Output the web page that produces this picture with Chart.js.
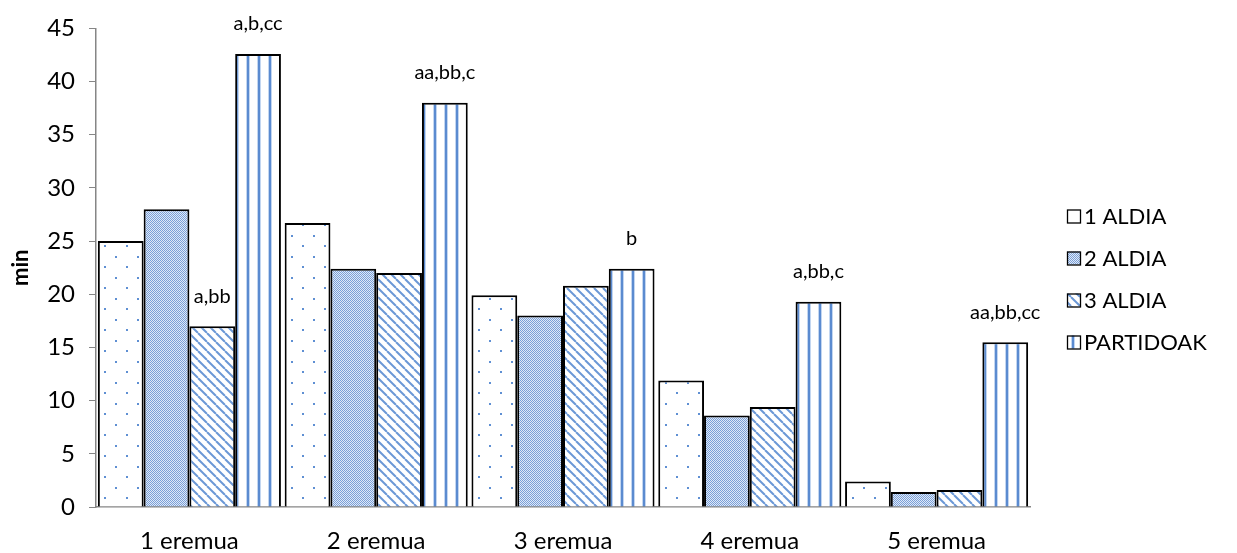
<!DOCTYPE html>
<html>
<head>
<meta charset="utf-8">
<script src="https://cdn.jsdelivr.net/npm/chart.js@4/dist/chart.umd.min.js"></script>
<style>
  html, body { margin: 0; padding: 0; background: #ffffff; }
  #wrap { width: 1237px; height: 553px; position: relative; }
</style>
</head>
<body>
<div id="wrap"><canvas id="c" width="1237" height="553"></canvas></div>
<script>
// Categories (zones) and series values in minutes
const categories = ['1 eremua', '2 eremua', '3 eremua', '4 eremua', '5 eremua'];
const seriesNames = ['1 ALDIA', '2 ALDIA', '3 ALDIA', 'PARTIDOAK'];
const aldia1 = [25.0, 26.7, 19.9, 11.9, 2.4];
const aldia2 = [28.0, 22.4, 18.0, 8.6, 1.4];
const aldia3 = [17.0, 22.0, 20.8, 9.4, 1.6];
const partidoak = [42.6, 38.0, 22.4, 19.3, 15.5];
const yTicks = [0, 5, 10, 15, 20, 25, 30, 35, 40, 45];

// Significance letters: [category index, series index, text]
const sigLabels = [
  [0, 2, 'a,bb'],
  [0, 3, 'a,b,cc'],
  [1, 3, 'aa,bb,c'],
  [2, 3, 'b'],
  [3, 3, 'a,bb,c'],
  [4, 3, 'aa,bb,cc']
];

const FONT = 'Lato, "Open Sans", sans-serif';
const BLUE = '#5b8bd0';

// ---- fill patterns ----
function tile(w, h, draw) {
  const cv = document.createElement('canvas');
  cv.width = w; cv.height = h;
  const g = cv.getContext('2d');
  g.fillStyle = '#ffffff';
  g.fillRect(0, 0, w, h);
  draw(g);
  return document.getElementById('c').getContext('2d').createPattern(cv, 'repeat');
}
// sparse staggered dots
const patDots = tile(22, 21, g => {
  g.fillStyle = '#5f8fd3';
  g.fillRect(5, 4, 2, 2);
  g.fillRect(16, 14, 2, 2);
});
// dense small checker
const patGrid = tile(2, 2, g => {
  g.fillStyle = '#7aa0d8';
  g.fillRect(0, 0, 1, 1);
  g.fillRect(1, 1, 1, 1);
  g.fillStyle = '#e0e9f7';
  g.fillRect(1, 0, 1, 1);
  g.fillRect(0, 1, 1, 1);
});
// downward diagonal stripes
const patDiag = tile(9, 9, g => {
  g.strokeStyle = '#6b98d6';
  g.lineWidth = 2;
  for (let k = -9; k <= 9; k += 9) {
    g.beginPath();
    g.moveTo(k, 0);
    g.lineTo(k + 9, 9);
    g.stroke();
  }
});
// vertical stripes
const patVert = tile(11, 4, g => {
  g.fillStyle = '#c3d6f0';
  g.fillRect(4, 0, 4, 4);
  g.fillStyle = BLUE;
  g.fillRect(5, 0, 2, 4);
});
const patterns = [patDots, patGrid, patDiag, patVert];
const seriesData = [aldia1, aldia2, aldia3, partidoak];

const datasets = seriesNames.map((name, i) => ({
  label: name,
  data: seriesData[i],
  backgroundColor: patterns[i],
  borderColor: '#000000',
  borderWidth: 2,
  borderSkipped: 'bottom',
  categoryPercentage: 0.98,
  barPercentage: 1.0
}));

// letters above bars
const sigPlugin = {
  id: 'sig',
  afterDatasetsDraw(chart) {
    const ctx = chart.ctx;
    ctx.save();
    ctx.font = '20px ' + FONT;
    ctx.fillStyle = '#000000';
    ctx.textAlign = 'center';
    ctx.textBaseline = 'middle';
    sigLabels.forEach(([ci, si, txt]) => {
      const bar = chart.getDatasetMeta(si).data[ci];
      ctx.fillText(txt, bar.x, bar.y - 30);
    });
    ctx.restore();
  }
};

// legend at the right, one row per series
const legendPlugin = {
  id: 'sideLegend',
  afterDraw(chart) {
    const ctx = chart.ctx;
    ctx.save();
    ctx.font = '22px ' + FONT;
    ctx.textBaseline = 'middle';
    ctx.textAlign = 'left';
    seriesNames.forEach((name, i) => {
      const cy = 216 + i * 42;
      const bx = 1067, size = 13;
      ctx.fillStyle = patterns[i];
      ctx.fillRect(bx, cy - size / 2, size, size);
      ctx.strokeStyle = '#000000';
      ctx.lineWidth = 1.3;
      ctx.strokeRect(bx + 0.5, cy - size / 2 + 0.5, size, size);
      ctx.fillStyle = '#000000';
      ctx.fillText(name, 1084, cy + 1);
    });
    ctx.restore();
  }
};

new Chart(document.getElementById('c'), {
  type: 'bar',
  data: { labels: categories, datasets },
  options: {
    responsive: false,
    animation: false,
    layout: { padding: { top: 28, right: 207, bottom: 0, left: 0 } },
    plugins: {
      legend: { display: false },
      tooltip: { enabled: false }
    },
    scales: {
      x: {
        grid: { display: false },
        border: { display: true, color: '#868686', width: 1.5 },
        ticks: { color: '#000000', font: { family: FONT, size: 24 }, padding: 12 },
        afterFit(s) { s.height = 46; }
      },
      y: {
        min: 0,
        max: 45,
        afterBuildTicks(s) { s.ticks = yTicks.map(v => ({ value: v })); },
        grid: { display: true, drawOnChartArea: false, drawTicks: true, tickLength: 7, color: '#868686' },
        border: { display: true, color: '#868686', width: 1.5 },
        ticks: { color: '#000000', font: { family: FONT, size: 24 }, padding: 14 },
        title: {
          display: true,
          text: 'min',
          color: '#000000',
          font: { family: FONT, size: 22, weight: 'bold' },
          padding: { top: 8, bottom: 0 }
        },
        afterFit(s) { s.width = 96; }
      }
    }
  },
  plugins: [sigPlugin, legendPlugin]
});
</script>
</body>
</html>
